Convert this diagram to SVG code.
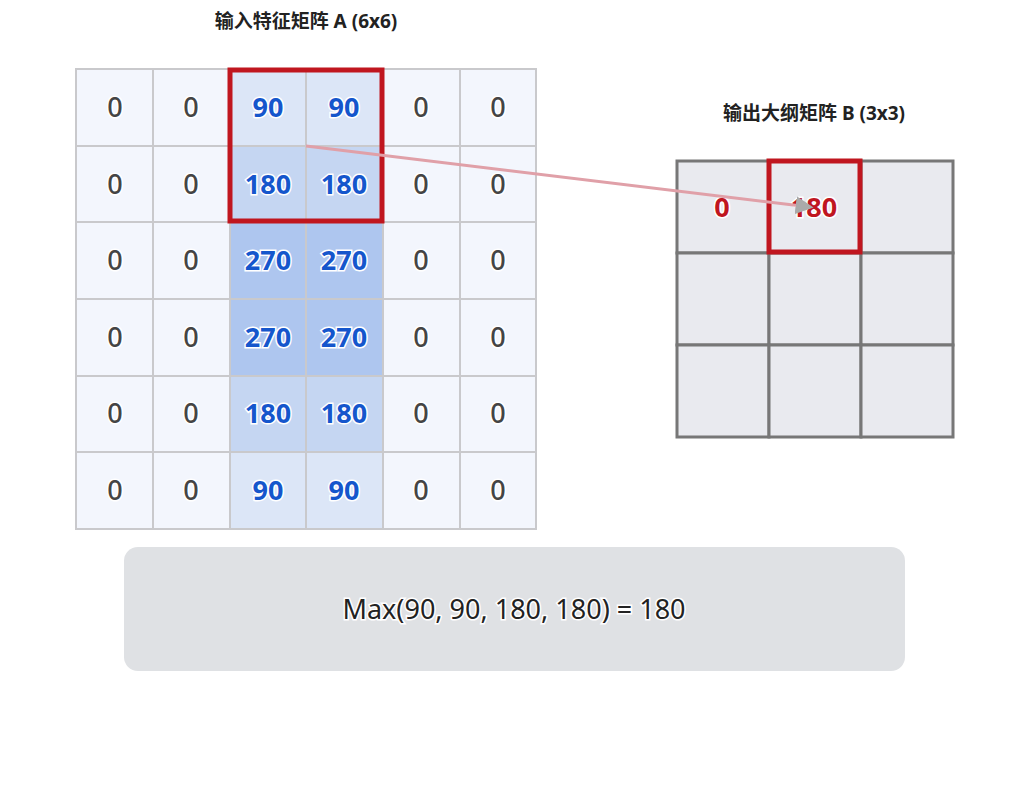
<svg xmlns="http://www.w3.org/2000/svg" width="1028" height="790" viewBox="0 0 1028 790">
<defs>
<style>
.t{font-family:"Noto Sans","Noto Sans CJK SC",sans-serif;font-weight:bold;font-size:19px;fill:#222;text-anchor:middle}
.n{font-family:"Noto Sans",sans-serif;font-size:27px;font-weight:500;text-anchor:middle;dominant-baseline:central;paint-order:stroke;stroke:#fff;stroke-width:3px}
.z{fill:#444}.b{fill:#1556cc;font-weight:bold}.r{fill:#c0161f;font-weight:bold}
.ca{stroke:#c9c9cc;stroke-width:2}
.c0{fill:#f3f6fd}.c1{fill:#dce6f7}.c2{fill:#c5d6f2}.c3{fill:#aec6ef}
.cb{fill:#e9eaef;stroke:#777;stroke-width:3}
</style>
<marker id="ah" viewBox="0 0 10 10" refX="8" refY="5" markerWidth="6" markerHeight="6" orient="auto"><path d="M0,0L10,5L0,10z" fill="#aaa"/></marker>
</defs>
<rect width="1028" height="790" fill="#fff"/>
<text class="t" x="306" y="28">输入特征矩阵 A (6x6)</text>
<text class="t" x="814" y="120">输出大纲矩阵 B (3x3)</text>
<g id="matrixA">
<g class="ca">
<rect class="c0" x="76" y="69" width="77" height="77"/><rect class="c0" x="153" y="69" width="77" height="77"/><rect class="c1" x="230" y="69" width="76" height="77"/><rect class="c1" x="306" y="69" width="77" height="77"/><rect class="c0" x="383" y="69" width="77" height="77"/><rect class="c0" x="460" y="69" width="76" height="77"/>
<rect class="c0" x="76" y="146" width="77" height="76"/><rect class="c0" x="153" y="146" width="77" height="76"/><rect class="c2" x="230" y="146" width="76" height="76"/><rect class="c2" x="306" y="146" width="77" height="76"/><rect class="c0" x="383" y="146" width="77" height="76"/><rect class="c0" x="460" y="146" width="76" height="76"/>
<rect class="c0" x="76" y="222" width="77" height="77"/><rect class="c0" x="153" y="222" width="77" height="77"/><rect class="c3" x="230" y="222" width="76" height="77"/><rect class="c3" x="306" y="222" width="77" height="77"/><rect class="c0" x="383" y="222" width="77" height="77"/><rect class="c0" x="460" y="222" width="76" height="77"/>
<rect class="c0" x="76" y="299" width="77" height="77"/><rect class="c0" x="153" y="299" width="77" height="77"/><rect class="c3" x="230" y="299" width="76" height="77"/><rect class="c3" x="306" y="299" width="77" height="77"/><rect class="c0" x="383" y="299" width="77" height="77"/><rect class="c0" x="460" y="299" width="76" height="77"/>
<rect class="c0" x="76" y="376" width="77" height="76"/><rect class="c0" x="153" y="376" width="77" height="76"/><rect class="c2" x="230" y="376" width="76" height="76"/><rect class="c2" x="306" y="376" width="77" height="76"/><rect class="c0" x="383" y="376" width="77" height="76"/><rect class="c0" x="460" y="376" width="76" height="76"/>
<rect class="c0" x="76" y="452" width="77" height="77"/><rect class="c0" x="153" y="452" width="77" height="77"/><rect class="c1" x="230" y="452" width="76" height="77"/><rect class="c1" x="306" y="452" width="77" height="77"/><rect class="c0" x="383" y="452" width="77" height="77"/><rect class="c0" x="460" y="452" width="76" height="77"/>
</g>
<g class="n">
<text class="z" x="115" y="106">0</text><text class="z" x="191" y="106">0</text><text class="b" x="268" y="106">90</text><text class="b" x="344" y="106">90</text><text class="z" x="421" y="106">0</text><text class="z" x="498" y="106">0</text>
<text class="z" x="115" y="183">0</text><text class="z" x="191" y="183">0</text><text class="b" x="268" y="183">180</text><text class="b" x="344" y="183">180</text><text class="z" x="421" y="183">0</text><text class="z" x="498" y="183">0</text>
<text class="z" x="115" y="259">0</text><text class="z" x="191" y="259">0</text><text class="b" x="268" y="259">270</text><text class="b" x="344" y="259">270</text><text class="z" x="421" y="259">0</text><text class="z" x="498" y="259">0</text>
<text class="z" x="115" y="336">0</text><text class="z" x="191" y="336">0</text><text class="b" x="268" y="336">270</text><text class="b" x="344" y="336">270</text><text class="z" x="421" y="336">0</text><text class="z" x="498" y="336">0</text>
<text class="z" x="115" y="412">0</text><text class="z" x="191" y="412">0</text><text class="b" x="268" y="412">180</text><text class="b" x="344" y="412">180</text><text class="z" x="421" y="412">0</text><text class="z" x="498" y="412">0</text>
<text class="z" x="115" y="489">0</text><text class="z" x="191" y="489">0</text><text class="b" x="268" y="489">90</text><text class="b" x="344" y="489">90</text><text class="z" x="421" y="489">0</text><text class="z" x="498" y="489">0</text>
</g>
<rect x="230" y="70" width="152" height="151" fill="none" stroke="#c0161f" stroke-width="5"/>
</g>
<g id="matrixB">
<rect class="cb" x="677" y="161" width="92" height="92"/><rect class="cb" x="769" y="161" width="92" height="92"/><rect class="cb" x="861" y="161" width="92" height="92"/>
<rect class="cb" x="677" y="253" width="92" height="92"/><rect class="cb" x="769" y="253" width="92" height="92"/><rect class="cb" x="861" y="253" width="92" height="92"/>
<rect class="cb" x="677" y="345" width="92" height="92"/><rect class="cb" x="769" y="345" width="92" height="92"/><rect class="cb" x="861" y="345" width="92" height="92"/>
<g class="n"><text class="r" x="722" y="206">0</text><text class="r" x="814" y="206">180</text></g>
<rect x="769" y="161" width="91" height="91" fill="none" stroke="#c0161f" stroke-width="5"/>
</g>
<g id="connectors">
<line x1="306" y1="146" x2="810" y2="207" stroke="#e0a0a8" stroke-width="3" marker-end="url(#ah)"/>
</g>
<g id="formula">
<rect x="124" y="547" width="781" height="124" rx="14" fill="#dfe1e4"/>
<text x="514" y="608" font-family="Noto Sans,sans-serif" font-size="27" fill="#222" text-anchor="middle" dominant-baseline="central" paint-order="stroke" stroke="#fff" stroke-width="3">Max(90, 90, 180, 180) = 180</text>
</g>
</svg>
